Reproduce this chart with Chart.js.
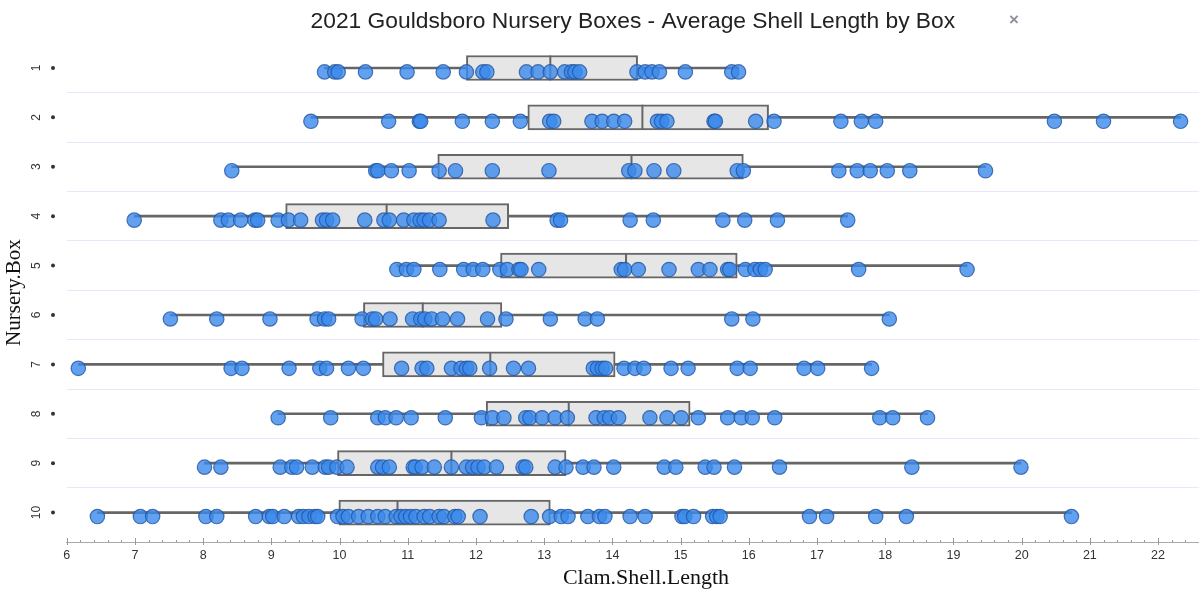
<!DOCTYPE html>
<html lang="en">
<head>
<meta charset="UTF-8">
<title>Gouldsboro Nursery Boxes</title>
<script src="https://cdn.jsdelivr.net/npm/chart.js@4.4.0/dist/chart.umd.min.js"></script>
<style>
  html, body { margin: 0; padding: 0; background: #fff; }
</style>
</head>
<body>
<canvas id="chart" width="1199" height="591"></canvas>
<script>
// shell lengths per nursery box
const boxLabels = ['1', '2', '3', '4', '5', '6', '7', '8', '9', '10'];
const box1 = [9.78, 9.93, 9.98, 10.38, 10.99, 11.52, 11.86, 12.10, 12.16, 12.74, 12.91, 13.09, 13.30, 13.40, 13.45, 13.52, 14.36, 14.48, 14.58, 14.69, 15.07, 15.75, 15.85];
const box2 = [9.58, 10.72, 11.17, 11.19, 11.80, 12.24, 12.65, 13.08, 13.14, 13.70, 13.85, 14.02, 14.18, 14.66, 14.72, 14.80, 15.49, 15.51, 16.10, 16.37, 17.35, 17.65, 17.86, 20.48, 21.20, 22.33];
const box3 = [8.42, 10.53, 10.56, 10.76, 11.02, 11.46, 11.70, 12.24, 13.07, 14.24, 14.33, 14.61, 14.90, 15.83, 15.92, 17.32, 17.59, 17.78, 18.03, 18.36, 19.47];
const box4 = [6.99, 8.26, 8.37, 8.55, 8.76, 8.80, 9.10, 9.25, 9.43, 9.75, 9.81, 9.90, 10.37, 10.65, 10.73, 10.94, 11.09, 11.18, 11.24, 11.32, 11.46, 12.25, 13.19, 13.24, 14.26, 14.60, 15.62, 15.94, 16.42, 17.45];
const box5 = [10.84, 10.98, 11.09, 11.47, 11.82, 11.96, 12.10, 12.35, 12.46, 12.63, 12.66, 12.92, 14.13, 14.18, 14.38, 14.83, 15.26, 15.43, 15.69, 15.72, 15.95, 16.09, 16.17, 16.24, 17.61, 19.20];
const box6 = [7.52, 8.20, 8.98, 9.67, 9.78, 9.84, 10.33, 10.48, 10.53, 10.74, 11.07, 11.19, 11.25, 11.35, 11.51, 11.73, 12.17, 12.44, 13.09, 13.60, 13.78, 15.75, 16.06, 18.06];
const box7 = [6.17, 8.41, 8.57, 9.26, 9.71, 9.81, 10.13, 10.35, 10.91, 11.21, 11.28, 11.64, 11.78, 11.86, 11.91, 12.20, 12.55, 12.77, 13.72, 13.78, 13.85, 13.90, 14.17, 14.33, 14.46, 14.86, 15.11, 15.83, 16.02, 16.81, 17.01, 17.80];
const box8 = [9.10, 9.87, 10.56, 10.67, 10.83, 11.05, 11.55, 12.08, 12.24, 12.41, 12.73, 12.79, 12.97, 13.16, 13.34, 13.76, 13.88, 13.96, 14.09, 14.55, 14.80, 15.01, 15.26, 15.69, 15.89, 16.05, 16.38, 17.92, 18.11, 18.62];
const box9 = [8.02, 8.26, 9.13, 9.30, 9.37, 9.60, 9.79, 9.84, 9.96, 10.11, 10.56, 10.63, 10.73, 11.08, 11.11, 11.21, 11.39, 11.64, 11.86, 11.95, 12.03, 12.12, 12.30, 12.69, 12.73, 13.16, 13.32, 13.57, 13.73, 14.02, 14.76, 14.93, 15.36, 15.49, 15.79, 16.45, 18.39, 19.99];
const box10 = [6.45, 7.08, 7.26, 8.04, 8.20, 8.77, 8.97, 9.02, 9.19, 9.40, 9.47, 9.55, 9.64, 9.68, 9.97, 10.05, 10.13, 10.28, 10.42, 10.56, 10.67, 10.83, 10.90, 10.97, 11.04, 11.12, 11.24, 11.32, 11.46, 11.53, 11.69, 11.74, 12.06, 12.81, 13.08, 13.25, 13.35, 13.64, 13.81, 13.89, 14.26, 14.48, 15.02, 15.06, 15.19, 15.47, 15.53, 15.58, 16.89, 17.14, 17.86, 18.31, 20.73];

// box stats as drawn
const q1s = [11.86, 12.76, 11.44, 9.21, 12.36, 10.35, 10.63, 12.15, 9.97, 9.99];
const medians = [13.09, 14.44, 14.28, 10.69, 14.20, 11.22, 12.21, 13.36, 11.64, 10.85];
const q3s = [14.37, 16.29, 15.92, 12.48, 15.83, 12.38, 14.04, 15.14, 13.32, 13.09];

const rows = [box1, box2, box3, box4, box5, box6, box7, box8, box9, box10];
const jitter = 0.08; // dots sit a little under the whisker

const pointData = [];
rows.forEach((r, i) => r.forEach(v => pointData.push({x: v, y: i + 1 + jitter})));

const extras = {
    id: 'extras',
    afterDraw(chart) {
        const {ctx, chartArea, scales: {x, y}} = chart;
        ctx.save();
        // y tick labels (rotated) and the little dot marks
        ctx.fillStyle = '#333';
        ctx.font = '12px "Liberation Sans", Arial, sans-serif';
        boxLabels.forEach((lab, i) => {
            const py = y.getPixelForValue(i + 1);
            ctx.save();
            ctx.translate(37, py);
            ctx.rotate(-Math.PI / 2);
            ctx.textAlign = 'center';
            ctx.textBaseline = 'middle';
            ctx.fillText(lab, 0, 0);
            ctx.restore();
            ctx.beginPath();
            ctx.arc(53, py, 2, 0, Math.PI * 2);
            ctx.fill();
        });
        // x axis major / minor ticks
        ctx.strokeStyle = '#999';
        ctx.lineWidth = 1;
        const base = chartArea.bottom;
        for (let k = 0; x.min + k * 0.2 <= x.max + 1e-9; k++) {
            const px = Math.round(x.getPixelForValue(x.min + k * 0.2)) + 0.5;
            const major = k % 5 === 0;
            ctx.beginPath();
            ctx.moveTo(px, base - (major ? 4 : 2));
            ctx.lineTo(px, base + (major ? 3 : 0));
            ctx.stroke();
        }
        // x axis title
        ctx.fillStyle = '#111';
        ctx.font = '22px "Liberation Serif", "Times New Roman", serif';
        ctx.textAlign = 'center';
        ctx.textBaseline = 'middle';
        ctx.fillText('Clam.Shell.Length', 646, 578);
        // close button
        ctx.fillStyle = '#8b9099';
        ctx.font = 'bold 17px "Liberation Sans", Arial, sans-serif';
        ctx.fillText('\u00d7', 1014, 20);
        ctx.restore();
    }
};

const ctx = document.getElementById('chart').getContext('2d');
const chart = new Chart(ctx, {
    type: 'scatter',
    data: {
        datasets: [
            {
                type: 'scatter',
                data: pointData,
                pointRadius: 7.2,
                backgroundColor: 'rgba(58, 138, 236, 0.8)',
                borderColor: 'rgba(35, 85, 160, 0.8)',
                borderWidth: 1.2
            },
            {
                type: 'scatter',
                data: medians.map((m, i) => ({x: m, y: i + 1})),
                pointStyle: 'line',
                rotation: 90,
                pointRadius: 12.5,
                borderColor: '#666',
                borderWidth: 2
            },
            {
                type: 'bar',
                indexAxis: 'y',
                stack: 'bp',
                data: q1s.map((q, i) => ({x: [q, q3s[i]], y: i + 1})),
                barThickness: 25,
                backgroundColor: '#e6e6e6',
                borderColor: '#666',
                borderWidth: 2,
                borderSkipped: false
            },
            {
                type: 'bar',
                indexAxis: 'y',
                stack: 'bp',
                data: rows.map((r, i) => ({x: [Math.min(...r), Math.max(...r)], y: i + 1})),
                barThickness: 2,
                backgroundColor: '#666',
                borderWidth: 0
            }
        ]
    },
    options: {
        responsive: false,
        animation: false,
        events: [],
        layout: { padding: 0, autoPadding: false },
        plugins: {
            legend: { display: false },
            tooltip: { enabled: false },
            title: {
                display: true,
                text: '2021 Gouldsboro Nursery Boxes - Average Shell Length by Box',
                fullSize: false,
                color: '#222',
                font: { family: '"Liberation Sans", Arial, sans-serif', size: 22.8, weight: 'normal' },
                padding: { top: 7.6, bottom: 8.3 }
            }
        },
        scales: {
            x: {
                type: 'linear',
                min: 6,
                max: 22.6,
                stacked: false,
                afterFit: s => { s.height = 49; s.paddingLeft = 0; s.paddingRight = 0; },
                grid: { display: false, drawTicks: false },
                border: { display: true, color: '#aaa', width: 1 },
                ticks: {
                    stepSize: 1,
                    includeBounds: false,
                    autoSkip: false,
                    maxRotation: 0,
                    padding: 6,
                    color: '#333',
                    font: { family: '"Liberation Sans", Arial, sans-serif', size: 12.5 }
                }
            },
            y: {
                type: 'linear',
                min: 0.5,
                max: 10.595,
                reverse: true,
                offset: false,
                afterFit: s => { s.width = 66.7; },
                afterBuildTicks: s => {
                    s.ticks = boxLabels.slice(1).map((_, i) => ({value: i + 1.5}));
                },
                grid: { color: '#e8e8fa', lineWidth: 1, drawTicks: false, offset: false },
                border: { display: false },
                ticks: { display: false },
                title: {
                    display: true,
                    text: 'Nursery.Box',
                    color: '#111',
                    font: { family: '"Liberation Serif", "Times New Roman", serif', size: 21 },
                    padding: { top: 2, bottom: 0 }
                }
            }
        }
    },
    plugins: [extras]
});
</script>
</body>
</html>
